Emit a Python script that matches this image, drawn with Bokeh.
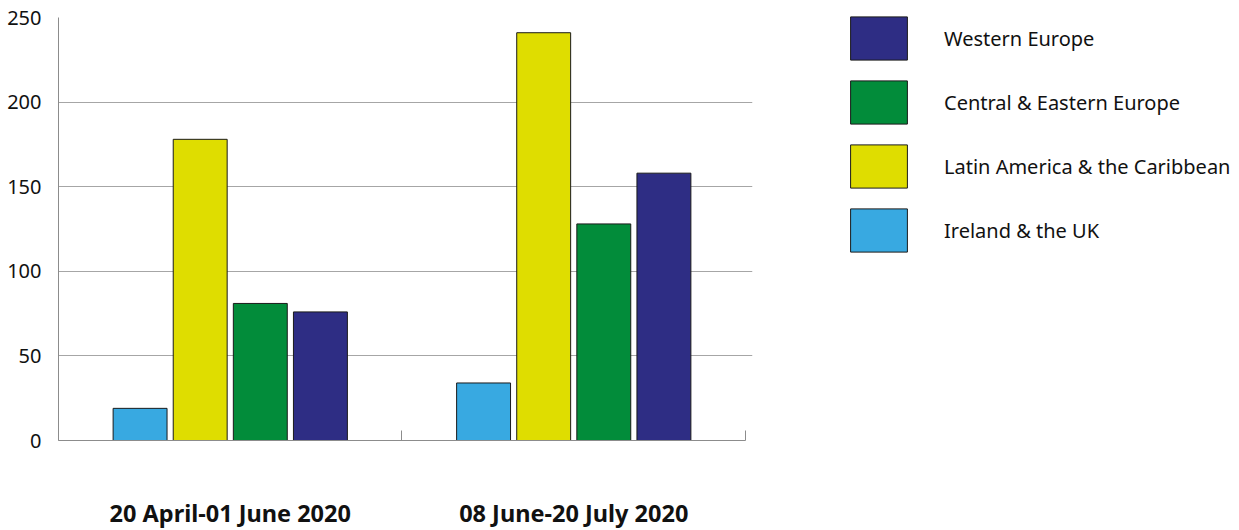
from bokeh.plotting import figure
from bokeh.models import (Range1d, FixedTicker, LinearAxis, Legend, LegendItem)
from bokeh.embed import file_html
from bokeh.resources import INLINE

# ---- data ----
periods = ["20 April-01 June 2020", "08 June-20 July 2020"]
series = ["Ireland & the UK", "Latin America & the Caribbean",
          "Central & Eastern Europe", "Western Europe"]
ireland_uk = [19, 34]
latin_america = [178, 241]
central_eastern = [81, 128]
western_europe = [76, 158]
y_ticks = [0, 50, 100, 150, 200, 250]

values = [ireland_uk, latin_america, central_eastern, western_europe]
colors = ["#38A9E1", "#DFDD00", "#028C3A", "#2E2D84"]
legend_order = [3, 2, 1, 0]

FONT = "Noto Sans"

p = figure(frame_width=694, frame_height=423, output_backend="svg",
           toolbar_location=None, x_range=Range1d(0, 2.0204),
           y_range=Range1d(0, 250), min_border_left=58, min_border_top=17,
           min_border_bottom=0, min_border_right=0,
           x_axis_location=None, y_axis_location=None)
p.outline_line_color = None
p.background_fill_color = "white"
p.border_fill_color = "white"

# y axis
yax = LinearAxis(ticker=FixedTicker(ticks=y_ticks))
yax.axis_line_color = "#8c8c8c"
yax.axis_line_width = 1
yax.major_tick_line_color = None
yax.minor_tick_line_color = None
yax.major_label_text_font = FONT
yax.major_label_text_font_size = "20px"
yax.major_label_text_color = "#111111"
yax.major_label_standoff = 11
p.add_layout(yax, "left")

# x axis: tick marks at category boundaries
xax = LinearAxis(ticker=FixedTicker(ticks=[0, 1, 2]), bounds=(0, 2))
xax.axis_line_color = "#8c8c8c"
xax.major_tick_line_color = "#8c8c8c"
xax.major_tick_in = 10
xax.major_tick_out = 0
xax.minor_tick_line_color = None
xax.major_label_text_font_size = "1px"
xax.major_label_text_color = None
xax.major_label_standoff = 0
p.add_layout(xax, "below")

# x axis: category labels
lax = LinearAxis(ticker=FixedTicker(ticks=[0.5, 1.5]),
                 major_label_overrides={0.5: periods[0], 1.5: periods[1]})
lax.axis_line_color = None
lax.major_tick_line_color = None
lax.minor_tick_line_color = None
lax.major_label_text_font = FONT
lax.major_label_text_font_style = "bold"
lax.major_label_text_font_size = "23.5px"
lax.major_label_text_color = "#111111"
lax.major_label_standoff = 50
p.add_layout(lax, "below")

# grid
p.xgrid.visible = False
p.ygrid.ticker = FixedTicker(ticks=y_ticks[1:])
p.ygrid.grid_line_color = "#a6a6a6"
p.ygrid.grid_line_width = 1

# bars
step = 0.175
width = 0.157
renderers = []
for i, (vals, col) in enumerate(zip(values, colors)):
    off = (i - 1.5) * step
    xs = [k + 0.5 + off for k in range(len(periods))]
    r = p.vbar(x=xs, top=vals, width=width, fill_color=col,
               line_color="#1a1a1a", line_width=1)
    renderers.append(r)

items = [LegendItem(label=series[i], renderers=[renderers[i]]) for i in legend_order]
legend = Legend(items=items)
legend.glyph_width = 71
legend.glyph_height = 54
legend.spacing = 10
legend.label_standoff = 30
legend.label_text_font = FONT
legend.label_text_font_size = "20px"
legend.label_text_color = "#111111"
legend.border_line_color = None
legend.background_fill_alpha = 0
legend.padding = 0
legend.margin = 0
legend.location = (91, 183)
p.add_layout(legend, "right")

open("out.html", "w").write(file_html(p, INLINE))
